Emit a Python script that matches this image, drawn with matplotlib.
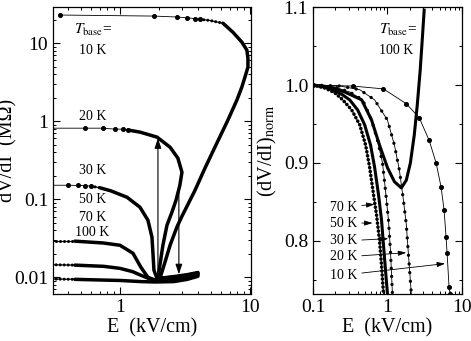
import matplotlib.pyplot as plt
from matplotlib.ticker import FuncFormatter, NullFormatter, MultipleLocator

plt.rcParams['font.family'] = ['Liberation Serif', 'DejaVu Serif']
plt.rcParams['mathtext.fontset'] = 'stix'

# ---- left panel : E (kV/cm) and dV/dI (MOhm) for each base temperature
E_10K = [0.345, 1.83, 2.74, 3.28, 3.78, 4.12, 4.92, 6.2, 7.4, 8.67, 9.48, 9.66, 9.66, 9.16,
         8.67, 7.94, 6.77, 5.38, 4.51, 3.78, 3.0, 2.74, 2.43, 2.22, 2.10, 2.03, 2.6, 3.3, 3.98]
R_10K = [22.9, 22.2, 21.6, 21.1, 20.6, 20.2, 19.5, 18.0, 13.8, 10.3, 8.13, 6.42, 4.92, 3.66,
         2.73, 1.86, 1.03, 0.464, 0.25, 0.13, 0.0605, 0.0438, 0.0257, 0.0156, 0.0116, 0.0097,
         0.0102, 0.0108, 0.0115]

E_20K = [0.28, 0.538, 0.740, 0.915, 1.054, 1.152, 1.43, 1.93, 2.43, 2.79, 3.0, 2.89, 2.70,
         2.51, 2.30, 2.14, 2.03, 1.96, 2.6, 3.3, 3.98]
R_20K = [0.813, 0.813, 0.813, 0.79, 0.79, 0.77, 0.723, 0.624, 0.464, 0.336, 0.222, 0.151,
         0.097, 0.068, 0.0464, 0.0257, 0.0143, 0.0097, 0.0100, 0.0106, 0.0113]

E_30K = [0.28, 0.398, 0.475, 0.538, 0.60, 0.702, 0.85, 1.132, 1.425, 1.641, 1.763, 1.794,
         1.826, 1.926, 2.6, 3.3, 3.98]
R_30K = [0.151, 0.151, 0.150, 0.149, 0.147, 0.140, 0.128, 0.106, 0.079, 0.0538, 0.0326,
         0.0203, 0.0123, 0.0097, 0.0097, 0.0103, 0.0111]

E_50K = [0.28, 0.45, 0.74, 1.0, 1.259, 1.45, 1.641, 1.858, 2.6, 3.3, 3.98]
R_50K = [0.029, 0.029, 0.0275, 0.0257, 0.0203, 0.0134, 0.0100, 0.0092, 0.0094, 0.0100, 0.0108]

E_70K = [0.28, 0.45, 0.75, 1.0, 1.25, 1.45, 1.65, 1.858, 2.6, 3.3, 3.98]
R_70K = [0.0145, 0.0143, 0.0138, 0.0130, 0.0118, 0.0106, 0.0097, 0.0092, 0.0091, 0.0097, 0.0106]

E_100K = [0.28, 0.45, 0.75, 1.0, 1.45, 1.858, 2.6, 3.3, 3.98]
R_100K = [0.0095, 0.0094, 0.0092, 0.0091, 0.0088, 0.0087, 0.0088, 0.0094, 0.0103]

left_labels = ['10 K', '20 K', '30 K', '50 K', '70 K', '100 K']

# switching fields of the hysteresis (kV/cm) and the resistance range of the jumps
E_up, R_up = 1.96, [0.0092, 0.605]
E_down, R_down = 2.84, [0.138, 0.0109]

# ---- right panel : normalised dV/dI versus E
En_10K = [0.1, 0.341, 0.884, 1.79, 2.67, 3.63, 4.5, 5.25, 5.75, 6.12, 6.31, 6.71, 6.92]
Vn_10K = [1.0, 0.9987, 0.995, 0.976, 0.958, 0.929, 0.900, 0.869, 0.840, 0.805, 0.785, 0.741, 0.732]

En_20K = [0.1, 0.229, 0.424, 0.671, 1.0, 1.24, 1.445, 1.634, 1.79, 1.905, 2.09]
Vn_20K = [1.0, 0.9987, 0.994, 0.981, 0.955, 0.923, 0.891, 0.853, 0.821, 0.785, 0.732]

En_30K = [0.1, 0.196, 0.311, 0.464, 0.612, 0.736, 0.858, 0.94, 1.031, 1.096, 1.166]
Vn_30K = [1.0, 0.9974, 0.991, 0.981, 0.955, 0.929, 0.900, 0.865, 0.827, 0.788, 0.732]

En_50K = [0.1, 0.169, 0.244, 0.311, 0.398, 0.494, 0.593, 0.671, 0.759, 0.832, 0.884, 0.94, 1.0]
Vn_50K = [1.0, 0.996, 0.988, 0.981, 0.968, 0.949, 0.923, 0.895, 0.859, 0.827, 0.795, 0.763, 0.732]

En_70K = [0.1, 0.145, 0.196, 0.251, 0.331, 0.424, 0.509, 0.575, 0.651, 0.714, 0.782, 0.832, 0.884]
Vn_70K = [1.0, 0.996, 0.990, 0.981, 0.968, 0.949, 0.923, 0.895, 0.859, 0.833, 0.801, 0.769, 0.732]

En_100K = [0.1, 0.169, 0.267, 0.45, 0.612, 0.782, 1.0, 1.24, 1.537, 1.79, 2.03, 2.29, 2.51,
           2.75, 2.93, 3.11]
Vn_100K = [1.0, 0.9974, 0.991, 0.981, 0.955, 0.923, 0.894, 0.876, 0.868, 0.878, 0.900, 0.936,
           0.974, 1.019, 1.058, 1.096]

# where the curve labels point to (E, normalised dV/dI)
right_labels = ['70 K', '50 K', '30 K', '20 K', '10 K']
right_targets = [(0.671, 0.847), (0.631, 0.823), (1.03, 0.803), (1.79, 0.785), (5.94, 0.771)]


def draw_left(ax, E, R, n_dots, i_mid, i_thick):
    """sparse part with dots, then densely dotted, then a thick line"""
    if n_dots > 0:
        ax.plot(E[:i_mid + 1], R[:i_mid + 1], 'k-', lw=0.6)
        ax.plot(E[:n_dots], R[:n_dots], 'ko', ms=2.6)
    if i_thick > i_mid:
        ax.plot(E[i_mid:i_thick + 1], R[i_mid:i_thick + 1], 'k-', lw=0.8)
        ax.plot(E[i_mid:i_thick + 1], R[i_mid:i_thick + 1], color='k', lw=2.2,
                ls=(0, (0.01, 1.3)), dash_capstyle='round')
    ax.plot(E[i_thick:], R[i_thick:], 'k-', lw=2.5, solid_capstyle='round',
            solid_joinstyle='round')


fig = plt.figure(figsize=(4.71, 3.41), dpi=100)
ax1 = fig.add_axes([0.1125, 0.1378, 0.4204, 0.8416])
ax2 = fig.add_axes([0.6645, 0.1378, 0.3163, 0.8416])

# left panel
draw_left(ax1, E_10K, R_10K, 6, 5, 7)
draw_left(ax1, E_20K, R_20K, 6, 5, 5)
draw_left(ax1, E_30K, R_30K, 5, 4, 5)
draw_left(ax1, E_50K, R_50K, 0, 0, 1)
draw_left(ax1, E_70K, R_70K, 0, 0, 1)
draw_left(ax1, E_100K, R_100K, 0, 0, 1)

head = '-|>,head_length=0.6,head_width=0.2'
ax1.annotate('', xy=(E_up, R_up[1]), xytext=(E_up, R_up[0]),
             arrowprops=dict(arrowstyle=head, color='k', lw=0.8, mutation_scale=10,
                             shrinkA=0, shrinkB=0))
ax1.annotate('', xy=(E_down, R_down[1]), xytext=(E_down, R_down[0]),
             arrowprops=dict(arrowstyle=head, color='k', lw=0.8, mutation_scale=10,
                             shrinkA=0, shrinkB=0))

ax1.set_xscale('log')
ax1.set_yscale('log')
ax1.set_xlim(0.305, 10.2)
ax1.set_ylim(0.0061, 29)
ax1.set_xlabel('E  (kV/cm)', fontsize=14.5, labelpad=2)
ax1.set_ylabel('dV/dI  (M\u03a9)', fontsize=14.5)
ax1.yaxis.set_label_coords(-0.178, 0.5)

ax1.text(0.20, 0.92, r'$T_{\rm base}$=', transform=ax1.transAxes, fontsize=11,
         ha='center', va='center')
label_y = [0.85, 0.617, 0.429, 0.328, 0.268, 0.213]
for lab, yy in zip(left_labels, label_y):
    ax1.text(0.20, yy, lab, transform=ax1.transAxes, fontsize=10, ha='center', va='center')

# right panel
ax2.plot(En_10K, Vn_10K, 'k-', lw=0.6, marker='o', ms=2.6)
ax2.plot(En_20K, Vn_20K, 'k-', lw=0.6)
ax2.plot(En_20K, Vn_20K, color='k', lw=2.4, ls=(0, (0.01, 2.6)), dash_capstyle='round')
ax2.plot(En_30K, Vn_30K, 'k-', lw=0.6)
ax2.plot(En_30K, Vn_30K, color='k', lw=2.4, ls=(0, (0.01, 2.4)), dash_capstyle='round')
ax2.plot(En_50K, Vn_50K, 'k-', lw=2.2)
ax2.plot(En_70K, Vn_70K, 'k-', lw=0.6)
ax2.plot(En_70K, Vn_70K, color='k', lw=2.6, ls=(0, (0.01, 1.1)), dash_capstyle='round')
ax2.plot(En_100K, Vn_100K, 'k-', lw=2.2)

ax2.set_xscale('log')
ax2.set_xlim(0.1, 10)
ax2.set_ylim(0.732, 1.1)
ax2.set_xlabel('E  (kV/cm)', fontsize=14.5, labelpad=2)
ax2.set_ylabel(r'(dV/dI)$_{\rm norm}$', fontsize=14.5, labelpad=3)

ax2.text(0.57, 0.92, r'$T_{\rm base}$=', transform=ax2.transAxes, fontsize=11,
         ha='center', va='center')
ax2.text(0.555, 0.85, '100 K', transform=ax2.transAxes, fontsize=10, ha='center', va='center')

lab_y = [0.303, 0.247, 0.185, 0.129, 0.066]
small = '-|>,head_length=0.8,head_width=0.25'
for lab, yy, tgt in zip(right_labels, lab_y, right_targets):
    ax2.annotate(lab, xy=tgt, xycoords='data', xytext=(0.30, yy), textcoords='axes fraction',
                 fontsize=10, ha='right', va='center',
                 arrowprops=dict(arrowstyle=small, color='k', lw=0.6, mutation_scale=6,
                                 shrinkA=1, shrinkB=0))

fmt = FuncFormatter(lambda v, pos: '%g' % v)
for ax in (ax1, ax2):
    ax.tick_params(which='both', direction='in', top=True, right=True, labelsize=14)
    ax.tick_params(which='major', length=5, width=0.8)
    ax.tick_params(which='minor', length=2.5, width=0.7)
    ax.xaxis.set_major_formatter(fmt)
    ax.xaxis.set_minor_formatter(NullFormatter())
    for s in ax.spines.values():
        s.set_linewidth(0.9)

ax1.yaxis.set_major_formatter(fmt)
ax1.yaxis.set_minor_formatter(NullFormatter())
ax2.yaxis.set_major_locator(MultipleLocator(0.1))
ax2.yaxis.set_minor_locator(MultipleLocator(0.05))
ax2.yaxis.set_major_formatter(FuncFormatter(lambda v, pos: '%.1f' % v))

fig.savefig('out.png', dpi=100)
